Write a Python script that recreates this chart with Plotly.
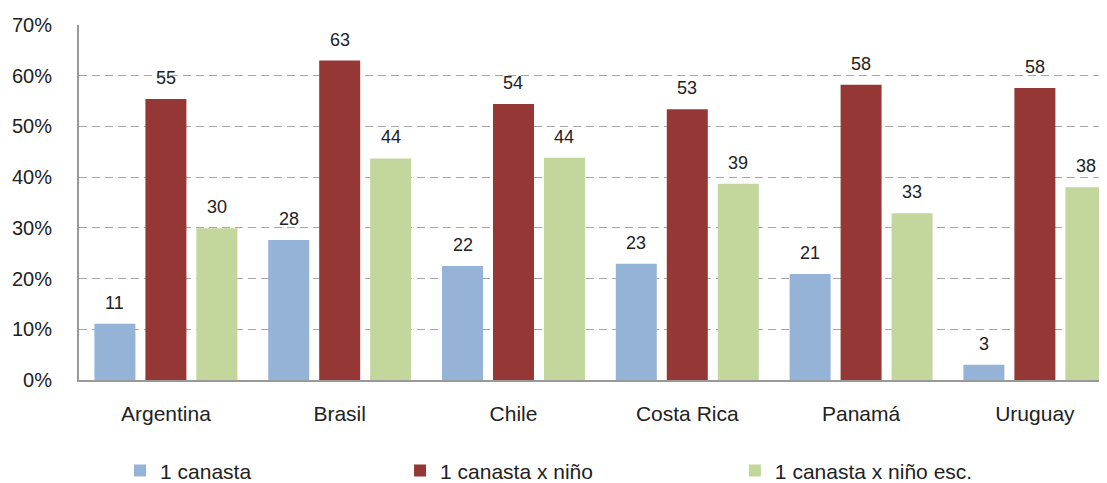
import plotly.graph_objects as go

paises = ["Argentina", "Brasil", "Chile", "Costa Rica", "Panamá", "Uruguay"]
canasta = [11.1, 27.6, 22.5, 22.9, 20.9, 3.0]
canasta_nino = [55.4, 63.0, 54.4, 53.4, 58.2, 57.6]
canasta_nino_esc = [29.9, 43.7, 43.8, 38.7, 32.9, 38.0]

series = [
    ("1 canasta", canasta, "#95b3d7", "legend", 0.0399),
    ("1 canasta x niño", canasta_nino, "#953735", "legend2", 0.3123),
    ("1 canasta x niño esc.", canasta_nino_esc, "#c3d69b", "legend3", 0.638),
]

# la pagina tiene 8px de margen en el body: la figura ocupa el resto de la ventana
ancho_fig, alto_fig = 1099, 475
m_izq, m_der = 71, 0
# el grafico original queda cortado a la derecha
rango_x = [-0.5, 5.415]
bargap = 0.12
px_categoria = (ancho_fig - m_izq - m_der) / (rango_x[1] - rango_x[0])
px_slot = px_categoria * (1 - bargap) / 3

fig = go.Figure()
for k, (nombre, valores, color, leg, _) in enumerate(series):
    fig.add_trace(go.Bar(
        x=paises, y=[v / 100 for v in valores], name=nombre,
        marker=dict(color=color, line=dict(width=0)),
        legend=leg,
    ))
    # etiquetas de datos
    for pais, v in zip(paises, valores):
        fig.add_annotation(
            x=pais, y=v / 100, xref="x", yref="y", text=str(round(v)),
            showarrow=False, yanchor="bottom", xshift=(k - 1) * px_slot,
            yshift=9, font=dict(size=18, color="#222222"),
        )

leg_style = dict(orientation="h", y=-0.256, yanchor="middle", xanchor="left",
                 font=dict(size=21, color="#222222"), bgcolor="rgba(0,0,0,0)",
                 itemwidth=30, tracegroupgap=0)
legends = {}
for _, _, _, leg, xpos in series:
    legends[leg] = dict(leg_style, x=xpos)

fig.update_layout(
    width=ancho_fig, height=alto_fig,
    margin=dict(l=m_izq, r=m_der, t=17, b=103, autoexpand=False),
    plot_bgcolor="white", paper_bgcolor="white",
    font=dict(family="Liberation Sans, Arial, sans-serif", color="#222222"),
    barmode="group", bargap=bargap, bargroupgap=0.196,
    showlegend=True,
    xaxis=dict(range=rango_x, showline=True, linecolor="#999999", linewidth=2,
               ticks="", tickfont=dict(size=21), ticklabelstandoff=14,
               showgrid=False, automargin=False),
    yaxis=dict(range=[0, 0.7], dtick=0.1, tickformat=".0%",
               showline=True, linecolor="#999999", linewidth=2,
               gridcolor="#a6a6a6", griddash="8px,5px", gridwidth=1.3,
               tickfont=dict(size=20), ticks="", ticklabelstandoff=21,
               zeroline=False, automargin=False),
    **legends,
)

fig.write_html("out.html")
